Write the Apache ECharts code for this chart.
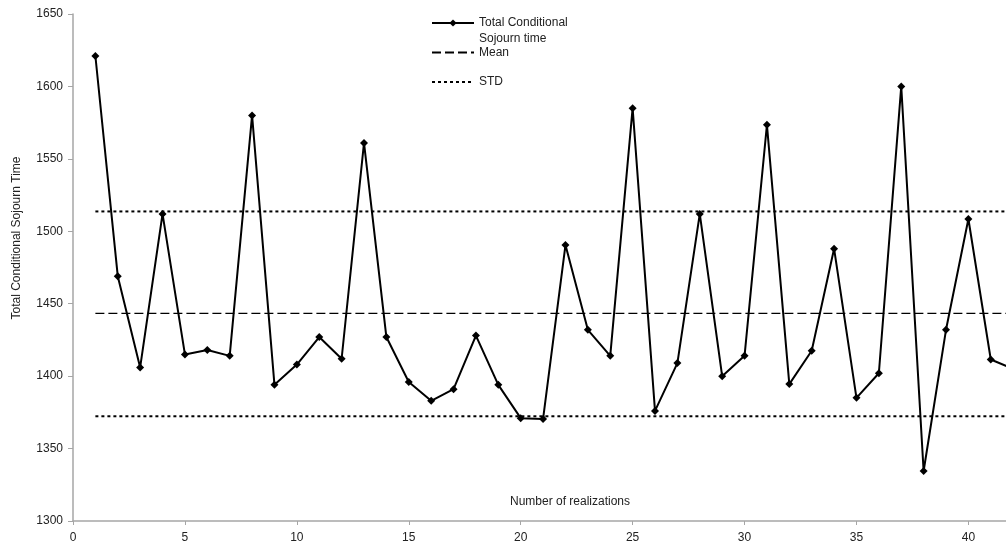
<!DOCTYPE html>
<html>
<head>
<meta charset="utf-8">
<script src="https://cdn.jsdelivr.net/npm/echarts@6/dist/echarts.min.js"></script>
<style>html,body{margin:0;padding:0;background:#fff}#c{width:1006px;height:547px}</style>
</head>
<body>
<div id="c"></div>
<script>
// realization index
const realizations = [1,2,3,4,5,6,7,8,9,10,11,12,13,14,15,16,17,18,19,20,21,22,23,24,25,26,27,28,29,30,31,32,33,34,35,36,37,38,39,40,41,42];
// Total Conditional Sojourn time per realization
const sojournTime = [1621,1469,1406,1512,1415,1418,1414,1580,1394,1408,1427,1412,1561,1427,1396,1383,1391,1428,1394,1371,1370.5,1490.5,1432,1414,1585,1376,1409,1512,1400,1414,1573.5,1394.5,1417.5,1488,1385,1402,1600,1334.5,1432,1508.5,1411.5,1405];
const meanValue = 1443.3;
const stdUpper = 1513.7;
const stdLower = 1372.3;
const lineStart = 1, lineEnd = 42;
const xTickLabels = ['0','5','10','15','20','25','30','35','40'];
const yTickLabels = ['1300','1350','1400','1450','1500','1550','1600','1650'];

const FONT = 'Liberation Sans, Arial, sans-serif';
const TXT = '#222';
const AX = '#a6a6a6';

const mainData = realizations.map((x, i) => [x, sojournTime[i]]);
const hline = v => [[lineStart, v], [lineEnd, v]];
const hiddenSymbol = { color: 'rgba(0,0,0,0)', borderColor: 'rgba(0,0,0,0)', borderWidth: 0, opacity: 0 };

const chart = echarts.init(document.getElementById('c'));
chart.setOption({
  animation: false,
  backgroundColor: '#fff',
  textStyle: { fontFamily: FONT },
  grid: { left: 73, top: 14, right: 0, bottom: 26 },
  xAxis: {
    type: 'value', min: 0, max: 41.68, interval: 5,
    axisLine: { show: true, lineStyle: { color: AX, width: 1.5 } },
    axisTick: { show: true, length: 4, lineStyle: { color: AX } },
    splitLine: { show: false },
    axisLabel: { color: TXT, fontSize: 12, fontFamily: FONT, margin: 11, showMaxLabel: false,
      formatter: v => xTickLabels.includes(String(v)) ? String(v) : '' }
  },
  yAxis: {
    type: 'value', min: 1300, max: 1650, interval: 50,
    axisLine: { show: true, lineStyle: { color: AX, width: 1.5 } },
    axisTick: { show: true, length: 5, lineStyle: { color: AX } },
    splitLine: { show: false },
    axisLabel: { color: TXT, fontSize: 12, fontFamily: FONT, margin: 10,
      formatter: v => yTickLabels.includes(String(v)) ? String(v) : '' }
  },
  legend: [
    { data: ['Total Conditional\nSojourn time'], left: 431, top: -1, padding: 0, orient: 'vertical',
      itemWidth: 42, itemHeight: 9,
      formatter: name => '\n' + name,
      textStyle: { fontSize: 12, fontFamily: FONT, color: TXT, lineHeight: 16 } },
    { data: ['Mean'], left: 431, top: 44.5, padding: 0, orient: 'vertical',
      itemWidth: 42, itemHeight: 8, itemStyle: hiddenSymbol,
      textStyle: { fontSize: 12, fontFamily: FONT, color: TXT, lineHeight: 16 } },
    { data: ['STD'], left: 431, top: 74, padding: 0, orient: 'vertical',
      itemWidth: 42, itemHeight: 8, itemStyle: hiddenSymbol,
      textStyle: { fontSize: 12, fontFamily: FONT, color: TXT, lineHeight: 16 } }
  ],
  graphic: [
    { type: 'text', x: 17, y: 238, rotation: Math.PI / 2,
      style: { text: 'Total Conditional Sojourn Time', fill: TXT, font: '12px ' + FONT, align: 'center', verticalAlign: 'middle' } },
    { type: 'text', x: 570, y: 502,
      style: { text: 'Number of realizations', fill: TXT, font: '12px ' + FONT, align: 'center', verticalAlign: 'middle' } }
  ],
  series: [
    { name: 'Total Conditional\nSojourn time', type: 'line', data: mainData,
      symbol: 'diamond', symbolSize: 8, showSymbol: true,
      lineStyle: { color: '#000', width: 2 }, itemStyle: { color: '#000' }, z: 5 },
    { name: 'Mean', type: 'line', data: hline(meanValue), symbol: 'none',
      lineStyle: { color: '#000', width: 1.3, type: [9, 4] }, itemStyle: { color: '#000' } },
    { name: 'STD', type: 'line', data: hline(stdUpper), symbol: 'none',
      lineStyle: { color: '#000', width: 2, type: [3, 3] }, itemStyle: { color: '#000' } },
    { name: 'STD', type: 'line', data: hline(stdLower), symbol: 'none',
      lineStyle: { color: '#000', width: 2, type: [3, 3] }, itemStyle: { color: '#000' } }
  ]
});
</script>
</body>
</html>
